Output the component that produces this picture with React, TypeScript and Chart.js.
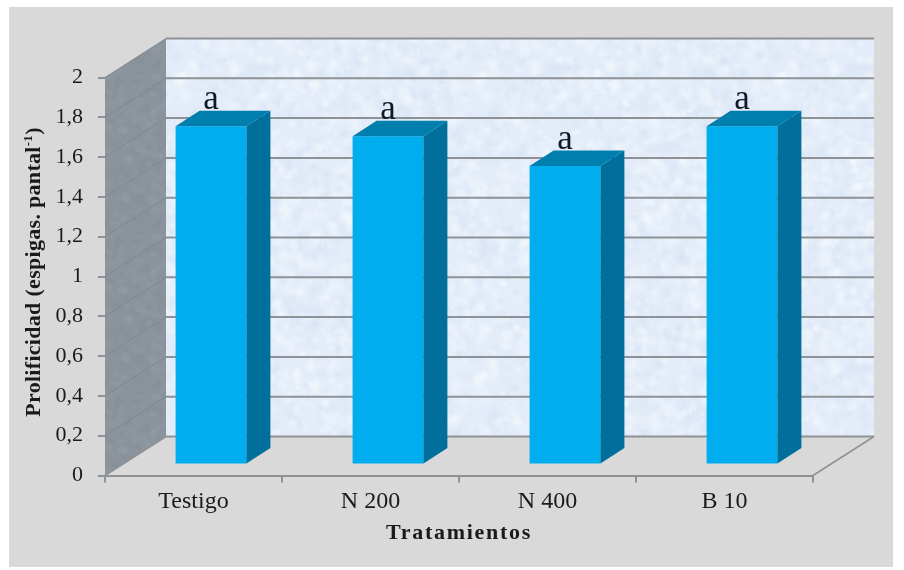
import React, { useEffect, useRef } from "react";
import { Chart, registerables } from "chart.js";

Chart.register(...registerables);

const categories = ["Testigo", "N 200", "N 400", "B 10"];
const prolificidad = [1.7, 1.65, 1.5, 1.7];
const significance = ["a", "a", "a", "a"];
const yTickLabels = ["0", "0,2", "0,4", "0,6", "0,8", "1", "1,2", "1,4", "1,6", "1,8", "2"];
const xAxisTitle = "Tratamientos";
const yAxisTitleParts = ["Prolificidad (espigas. pantal", "-1", ")"];

const SERIF = '"Liberation Serif", "Times New Roman", serif';
const INK = "#1a1a1a";
const GRID = "#8e9296";

// Pseudo-3D depth of the chart box and of the plane the bars stand on.
const BOX_DX = 61;
const BOX_DY = -39;
const BAR_PLANE_DX = 17.5;
const BAR_PLANE_DY = -11;
const BAR_DX = 24;
const BAR_DY = -15.5;

// Deterministic, seamlessly wrapping mottled tile used for the wall surfaces.
function mottledTile(base: string, light: string, dark: string, size: number, count: number, maxR: number) {
  const tile = document.createElement("canvas");
  tile.width = size;
  tile.height = size;
  const c = tile.getContext("2d")!;
  c.fillStyle = base;
  c.fillRect(0, 0, size, size);
  let seed = 12345;
  const next = () => {
    seed = (seed * 1103515 + 12345) % 2147483648;
    return seed / 2147483648;
  };
  for (let i = 0; i < count; i++) {
    const x = next() * size;
    const y = next() * size;
    const r = 2 + next() * maxR;
    const col = next() > 0.5 ? light : dark;
    for (const ox of [-size, 0, size]) {
      for (const oy of [-size, 0, size]) {
        const g = c.createRadialGradient(x + ox, y + oy, 0, x + ox, y + oy, r);
        g.addColorStop(0, col);
        g.addColorStop(1, col.replace(/[\d.]+\)$/, "0)"));
        c.fillStyle = g;
        c.fillRect(x + ox - r, y + oy - r, r * 2, r * 2);
      }
    }
  }
  return tile;
}

function poly(ctx: CanvasRenderingContext2D, pts: number[][], fill?: string | CanvasPattern | null) {
  ctx.beginPath();
  pts.forEach(([x, y], i) => (i ? ctx.lineTo(x, y) : ctx.moveTo(x, y)));
  ctx.closePath();
  if (fill) {
    ctx.fillStyle = fill;
    ctx.fill();
  }
}

const boxPlugin = {
  id: "box3d",
  beforeDraw(chart: any) {
    const ctx: CanvasRenderingContext2D = chart.ctx;
    ctx.save();
    ctx.fillStyle = "#ffffff";
    ctx.fillRect(0, 0, chart.width, chart.height);
    ctx.fillStyle = "#d9d9d9";
    ctx.fillRect(9, 7, 884, 560);
    ctx.restore();
  },
  beforeDatasetsDraw(chart: any) {
    const ctx: CanvasRenderingContext2D = chart.ctx;
    const { left, right } = chart.chartArea;
    const y = chart.scales.y;
    const y0 = y.getPixelForValue(0);
    const y2 = y.getPixelForValue(2);
    const wallPat = ctx.createPattern(
      mottledTile("#e3ecf8", "rgba(248,251,255,0.4)", "rgba(208,222,242,0.3)", 300, 1700, 7),
      "repeat"
    );
    const sidePat = ctx.createPattern(
      mottledTile("#8b949c", "rgba(156,164,172,0.22)", "rgba(124,132,140,0.22)", 160, 700, 5),
      "repeat"
    );
    ctx.save();
    // Back wall, left wall
    ctx.fillStyle = wallPat!;
    ctx.fillRect(left + BOX_DX, y2 + BOX_DY, right - left, y0 - y2);
    poly(ctx, [
      [left, y2],
      [left + BOX_DX, y2 + BOX_DY],
      [left + BOX_DX, y0 + BOX_DY],
      [left, y0],
    ], sidePat);
    // Gridlines running across the side wall and the back wall
    yTickLabels.forEach((_, i) => {
      const py = y.getPixelForValue(i * 0.2);
      if (i > 0) {
        ctx.strokeStyle = "#7f8790";
        ctx.lineWidth = 1;
        ctx.beginPath();
        ctx.moveTo(left, py);
        ctx.lineTo(left + BOX_DX, py + BOX_DY);
        ctx.stroke();
      }
      ctx.strokeStyle = GRID;
      ctx.lineWidth = 2;
      ctx.beginPath();
      ctx.moveTo(left + BOX_DX, py + BOX_DY);
      ctx.lineTo(right + BOX_DX, py + BOX_DY);
      ctx.stroke();
    });
    // Floor outline
    ctx.strokeStyle = GRID;
    ctx.lineWidth = 1.5;
    ctx.beginPath();
    ctx.moveTo(left, y0);
    ctx.lineTo(left + BOX_DX, y0 + BOX_DY);
    ctx.moveTo(right + BOX_DX, y0 + BOX_DY);
    ctx.lineTo(right, y0);
    ctx.stroke();
    ctx.restore();
  },
  beforeDatasetDraw(chart: any) {
    chart.ctx.save();
    chart.ctx.translate(BAR_PLANE_DX, BAR_PLANE_DY);
  },
  afterDatasetDraw(chart: any) {
    const ctx: CanvasRenderingContext2D = chart.ctx;
    chart.getDatasetMeta(0).data.forEach((bar: any, i: number) => {
      const { x, y, base, width } = bar.getProps(["x", "y", "base", "width"], true);
      const l = x - width / 2;
      const r = x + width / 2;
      poly(ctx, [
        [r, y],
        [r + BAR_DX, y + BAR_DY],
        [r + BAR_DX, base + BAR_DY],
        [r, base],
      ], "#006f9c");
      poly(ctx, [
        [l, y],
        [l + BAR_DX, y + BAR_DY],
        [r + BAR_DX, y + BAR_DY],
        [r, y],
      ], "#007eae");
      ctx.fillStyle = "#111827";
      ctx.font = `35px ${SERIF}`;
      ctx.textAlign = "center";
      ctx.textBaseline = "alphabetic";
      ctx.fillText(significance[i], x, y - 17);
    });
    ctx.restore();
  },
  afterDraw(chart: any) {
    // Axis titles: wider tracking than the canvas default, and a raised exponent on the value axis.
    const ctx: CanvasRenderingContext2D = chart.ctx;
    const { left, right, top, bottom } = chart.chartArea;
    ctx.save();
    (ctx as any).letterSpacing = "1.7px";
    ctx.fillStyle = INK;
    ctx.font = `bold 22px ${SERIF}`;
    ctx.textAlign = "center";
    ctx.textBaseline = "middle";
    ctx.fillText(xAxisTitle, (left + right) / 2, 533);
    ctx.restore();

    ctx.save();
    (ctx as any).letterSpacing = "0.3px";
    ctx.fillStyle = INK;
    ctx.textAlign = "left";
    ctx.textBaseline = "alphabetic";
    const mainFont = `bold 22px ${SERIF}`;
    const supFont = `bold 13px ${SERIF}`;
    ctx.font = mainFont;
    const w0 = ctx.measureText(yAxisTitleParts[0]).width;
    const w2 = ctx.measureText(yAxisTitleParts[2]).width;
    ctx.font = supFont;
    const w1 = ctx.measureText(yAxisTitleParts[1]).width;
    const total = w0 + w1 + w2;
    ctx.translate(40, (top + bottom) / 2 - 4.5);
    ctx.rotate(-Math.PI / 2);
    let cursor = -total / 2;
    ctx.font = mainFont;
    ctx.fillText(yAxisTitleParts[0], cursor, 0);
    cursor += w0;
    ctx.font = supFont;
    ctx.fillText(yAxisTitleParts[1], cursor, -8);
    cursor += w1;
    ctx.font = mainFont;
    ctx.fillText(yAxisTitleParts[2], cursor, 0);
    ctx.restore();
  },
};

export default function App() {
  const ref = useRef<HTMLCanvasElement>(null);

  useEffect(() => {
    const chart = new Chart(ref.current!, {
      type: "bar",
      data: {
        labels: categories,
        datasets: [
          {
            data: prolificidad,
            backgroundColor: "#00aeef",
            borderWidth: 0,
            barPercentage: 0.4,
            categoryPercentage: 1,
            clip: false,
          } as any,
        ],
      },
      plugins: [boxPlugin],
      options: {
        responsive: false,
        animation: false,
        events: [],
        layout: { padding: { top: 77.5, right: 91, left: 0, bottom: 0 } },
        plugins: { legend: { display: false }, title: { display: false }, tooltip: { enabled: false } },
        scales: {
          x: {
            afterFit: (s: any) => {
              s.height = 94.5;
            },
            grid: { display: true, drawOnChartArea: false, drawTicks: true, tickLength: 7, color: GRID, lineWidth: 2 },
            border: { display: true, color: GRID, width: 2 },
            ticks: { color: INK, font: { family: SERIF, size: 24 }, padding: 5, maxRotation: 0 },
          },
          y: {
            min: 0,
            max: 2,
            afterFit: (s: any) => {
              s.width = 105;
            },
            grid: { display: true, drawOnChartArea: false, drawTicks: true, tickLength: 7, color: GRID, lineWidth: 2 },
            border: { display: false },
            ticks: {
              stepSize: 0.2,
              color: INK,
              padding: 15,
              font: { family: SERIF, size: 22 },
              callback: (_: any, i: number) => yTickLabels[i],
            },
          },
        },
      } as any,
    });
    return () => chart.destroy();
  }, []);

  return (
    <div style={{ position: "absolute", left: 0, top: 0, width: 904, height: 570 }}>
      <canvas ref={ref} width={904} height={570} style={{ display: "block" }} />
    </div>
  );
}
